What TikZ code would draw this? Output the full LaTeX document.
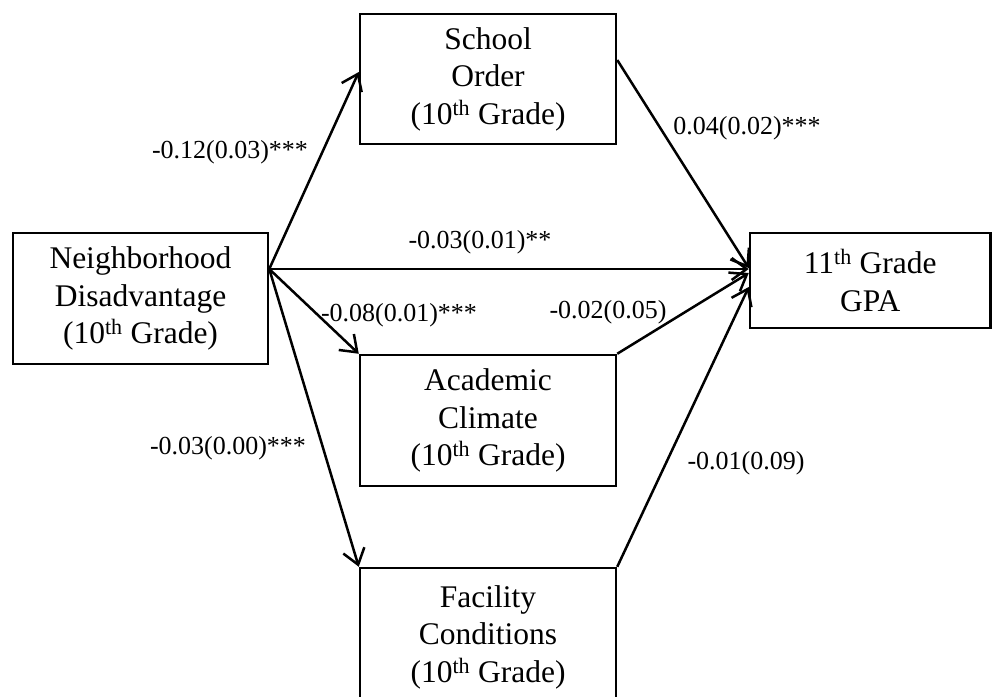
\documentclass[tikz,border=0pt]{standalone}
\usepackage{fontspec}
\setmainfont{Liberation Serif}
\usetikzlibrary{arrows.meta}
\begin{document}
\begin{tikzpicture}[x=1pt,y=-1pt,
  box/.style={draw=black,line width=2.5pt,rectangle,align=center,inner sep=0pt,
    font=\fontsize{31.5}{37.5}\selectfont},
  lab/.style={inner sep=0pt,font=\fontsize{26}{30}\selectfont},
  arr/.style={line width=2.5pt,-{Straight Barb[length=15pt,width=22pt,line width=2.5pt]}}]
\useasboundingbox (0,0) rectangle (992,696);
\node[box,minimum width=255pt,minimum height=131pt] (nd) at (140.5,298.5)
  {Neighborhood\\Disadvantage\\(10\textsuperscript{th} Grade)};
\node[box,minimum width=256pt,minimum height=130pt] (so) at (488,79)
  {School\\Order\\(10\textsuperscript{th} Grade)};
\node[box,minimum width=256pt,minimum height=131pt] (ac) at (488,420.5)
  {Academic\\Climate\\(10\textsuperscript{th} Grade)};
\node[box,minimum width=256pt,minimum height=138pt] (fc) at (488,637)
  {Facility\\Conditions\\(10\textsuperscript{th} Grade)};
\node[box,minimum width=240.5pt,minimum height=95pt] (gpa) at (870.25,280.5)
  {11\textsuperscript{th} Grade\\GPA};
\coordinate (o) at ([yshift=29.5pt]nd.east);
\coordinate (gso) at ([yshift=12.5pt]gpa.west);
\coordinate (gnd) at ([yshift=11.5pt]gpa.west);
\coordinate (gac) at ([yshift=7.5pt]gpa.west);
\coordinate (gfc) at ([yshift=-6.5pt]gpa.west);
\draw[arr] (o) -- ([yshift=7pt]so.west);
\draw[arr] (o) -- (gnd);
\draw[arr] (o) -- (ac.north west);
\draw[arr] (o) -- (fc.north west);
\draw[arr] ([yshift=19pt]so.east) -- (gso);
\draw[arr] (ac.north east) -- (gac);
\draw[arr] (fc.north east) -- (gfc);
\node[lab] (l1) at (230,152) {-0.12(0.03)***};
\node[lab] (l2) at (747,128) {0.04(0.02)***};
\node[lab] (l3) at (480,242) {-0.03(0.01)**};
\node[lab] (l4) at (399,315) {-0.08(0.01)***};
\node[lab] (l5) at (608,312) {-0.02(0.05)};
\node[lab] (l6) at (228,448) {-0.03(0.00)***};
\node[lab] (l7) at (746,463) {-0.01(0.09)};
\end{tikzpicture}
\end{document}
